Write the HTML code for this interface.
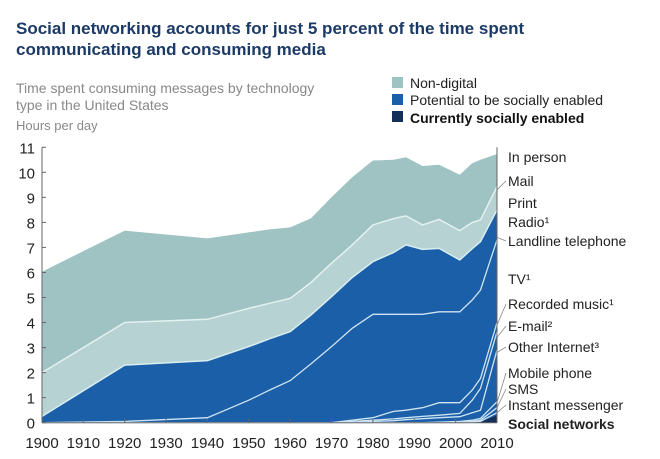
<!DOCTYPE html>
<html><head><meta charset="utf-8"><style>
body{margin:0;background:#fff;width:660px;height:459px;overflow:hidden;font-family:"Liberation Sans",sans-serif}
svg{position:absolute;left:0;top:0}
</style></head><body>
<svg width="660" height="459">
<text x="16" y="34" font-size="17" font-weight="bold" fill="#1c3a66">Social networking accounts for just 5 percent of the time spent</text>
<text x="16" y="55" font-size="17" font-weight="bold" fill="#1c3a66">communicating and consuming media</text>
<text x="16" y="93" font-size="14" fill="#888">Time spent consuming messages by technology</text>
<text x="16" y="110" font-size="14" fill="#888">type in the United States</text>
<text x="16" y="130" font-size="13" fill="#888">Hours per day</text>
<g>
<rect x="392" y="77" width="11" height="11" fill="#9fc2c2"/>
<text x="410" y="88" font-size="14" fill="#222">Non-digital</text>
<rect x="392" y="94" width="11" height="11" fill="#1b5fa8"/>
<text x="410" y="105" font-size="14" fill="#222">Potential to be socially enabled</text>
<rect x="392" y="111" width="11" height="11" fill="#14305a"/>
<text x="410" y="123" font-size="14" font-weight="bold" fill="#111">Currently socially enabled</text>
</g>
<g id="plot"></g>
<g id="axes"></g>
</svg>
<script>
const years=[1900,1920,1940,1950,1955,1960,1965,1970,1975,1980,1985,1988,1992,1996,2001,2004,2006,2010];
const topLine=[6.03,7.67,7.36,7.6,7.72,7.8,8.16,9.0,9.8,10.47,10.5,10.6,10.25,10.3,9.9,10.36,10.5,10.73];
const lightTop=[2.0,4.0,4.13,4.57,4.77,4.97,5.6,6.37,7.1,7.9,8.15,8.26,7.9,8.12,7.67,8.0,8.1,9.43];
const blueTop=[0.25,2.3,2.48,3.04,3.35,3.64,4.3,5.03,5.8,6.43,6.8,7.1,6.92,6.96,6.5,6.95,7.23,8.5];
const lineA=[0,0.05,0.2,0.9,1.3,1.68,2.35,3.04,3.77,4.33,4.33,4.33,4.33,4.43,4.43,4.9,5.3,7.3];
const lineB=[0,0,0,0,0,0,0,0,0.1,0.2,0.45,0.5,0.6,0.8,0.8,1.3,1.77,4.0];
const lineC=[0,0,0,0,0,0,0,0,0.05,0.1,0.15,0.2,0.25,0.3,0.37,0.9,1.37,3.63];
const lineD=[0,0,0,0,0,0,0,0,0,0.05,0.08,0.12,0.16,0.2,0.24,0.4,0.5,2.9];
const lineE=[0,0,0,0,0,0,0,0,0,0,0,0,0,0.02,0.05,0.1,0.17,0.84];
const lineF=[0,0,0,0,0,0,0,0,0,0,0,0,0,0,0,0.05,0.1,0.6];
const lineG=[0,0,0,0,0,0,0,0,0,0,0,0,0,0,0,0.02,0.05,0.4];
const social=[0,0,0,0,0,0,0,0,0,0,0,0,0,0,0,0,0.02,0.3];
const yTicks=[0,1,2,3,4,5,6,7,8,9,10,11];
const xTicks=[1900,1910,1920,1930,1940,1950,1960,1970,1980,1990,2000,2010];
const labels=[["In person",157,0],["Mail",181,0],["Print",203,0],["Radio¹",222,0],["Landline telephone",241,0],["TV¹",279,0],["Recorded music¹",304,0],["E-mail²",326,0],["Other Internet³",347,0],["Mobile phone",373,0],["SMS",389,0],["Instant messenger",405,0],["Social networks",424,1]];
const leaders=[[181,9.3],[241,7.4],[304,3.9],[326,3.4],[347,2.8],[373,0.8],[389,0.6],[405,0.4]];
const X=v=>42+(v-1900)*(455/110), Y=v=>422.7-v*25.04;
const NS="http://www.w3.org/2000/svg";
const plot=document.getElementById('plot'), axes=document.getElementById('axes');
function mk(tag,attrs,parent){const e=document.createElementNS(NS,tag);for(const k in attrs)e.setAttribute(k,attrs[k]);parent.appendChild(e);return e;}
function pts(arr){return years.map((y,i)=>X(y).toFixed(1)+','+Y(arr[i]).toFixed(1));}
function area(upper,lower,fill,name){
  const p=pts(upper).concat(lower?pts(lower).reverse():[X(2010)+','+Y(0),X(1900)+','+Y(0)]);
  const e=mk('polygon',{points:p.join(' '),fill:fill},plot);
  
  
}
function line(arr,name,col,w){
  const e=mk('polyline',{points:pts(arr).join(' '),fill:'none',stroke:col||'#cfe4f2','stroke-width':w||1.3},plot);
  
  
}
area(topLine,lightTop,'#9fc2c2','area-in-person');
area(lightTop,blueTop,'#b7d2d2','area-mail-print');
area(blueTop,null,'#1b5fa8','area-potential');
area(social,null,'#14305a','area-social-networks');
line(lightTop,'line-mail','#e4f1f1',1.5);
line(blueTop,'line-print','#d8eef2',1.5);
[[lineA,'line-landline'],[lineB,'line-tv'],[lineC,'line-recorded-music'],[lineD,'line-email'],[lineE,'line-other-internet'],[lineF,'line-mobile'],[lineG,'line-sms']].forEach(([a,n])=>line(a,n));
let e=mk('line',{x1:42,y1:Y(0),x2:42,y2:Y(11),stroke:'#666','stroke-width':1},axes);

e=mk('line',{x1:X(2010),y1:Y(0),x2:X(2010),y2:Y(11),stroke:'#666','stroke-width':1},axes);

e=mk('line',{x1:42,y1:Y(0),x2:X(2010),y2:Y(0),stroke:'#666','stroke-width':1},axes);

yTicks.forEach(t=>{
  const tx=mk('text',{x:35,y:Y(t)+6,'font-size':15,fill:'#222','text-anchor':'end'},axes);
  tx.textContent=t;
  
  
  const tk=mk('line',{x1:42,y1:Y(t),x2:46,y2:Y(t),stroke:'#666'},axes);
  
  
});
xTicks.forEach(t=>{
  const tx=mk('text',{x:X(t),y:448,'font-size':15,fill:'#222','text-anchor':'middle'},axes);
  tx.textContent=t;
  
  
  const tk=mk('line',{x1:X(t),y1:Y(0),x2:X(t),y2:Y(0)-4,stroke:'#666'},axes);
  
  
});
leaders.forEach(([ly,v])=>{
  const l=mk('line',{x1:X(2010),y1:Y(v),x2:506,y2:ly,stroke:'#888','stroke-width':0.8},axes);
  
  
});
labels.forEach(([s,y,b])=>{
  const tx=mk('text',{x:508,y:y+5,'font-size':14,fill:'#222','font-weight':b?'bold':'normal'},axes);
  tx.textContent=s;
  
  
});
</script>
</body></html>
